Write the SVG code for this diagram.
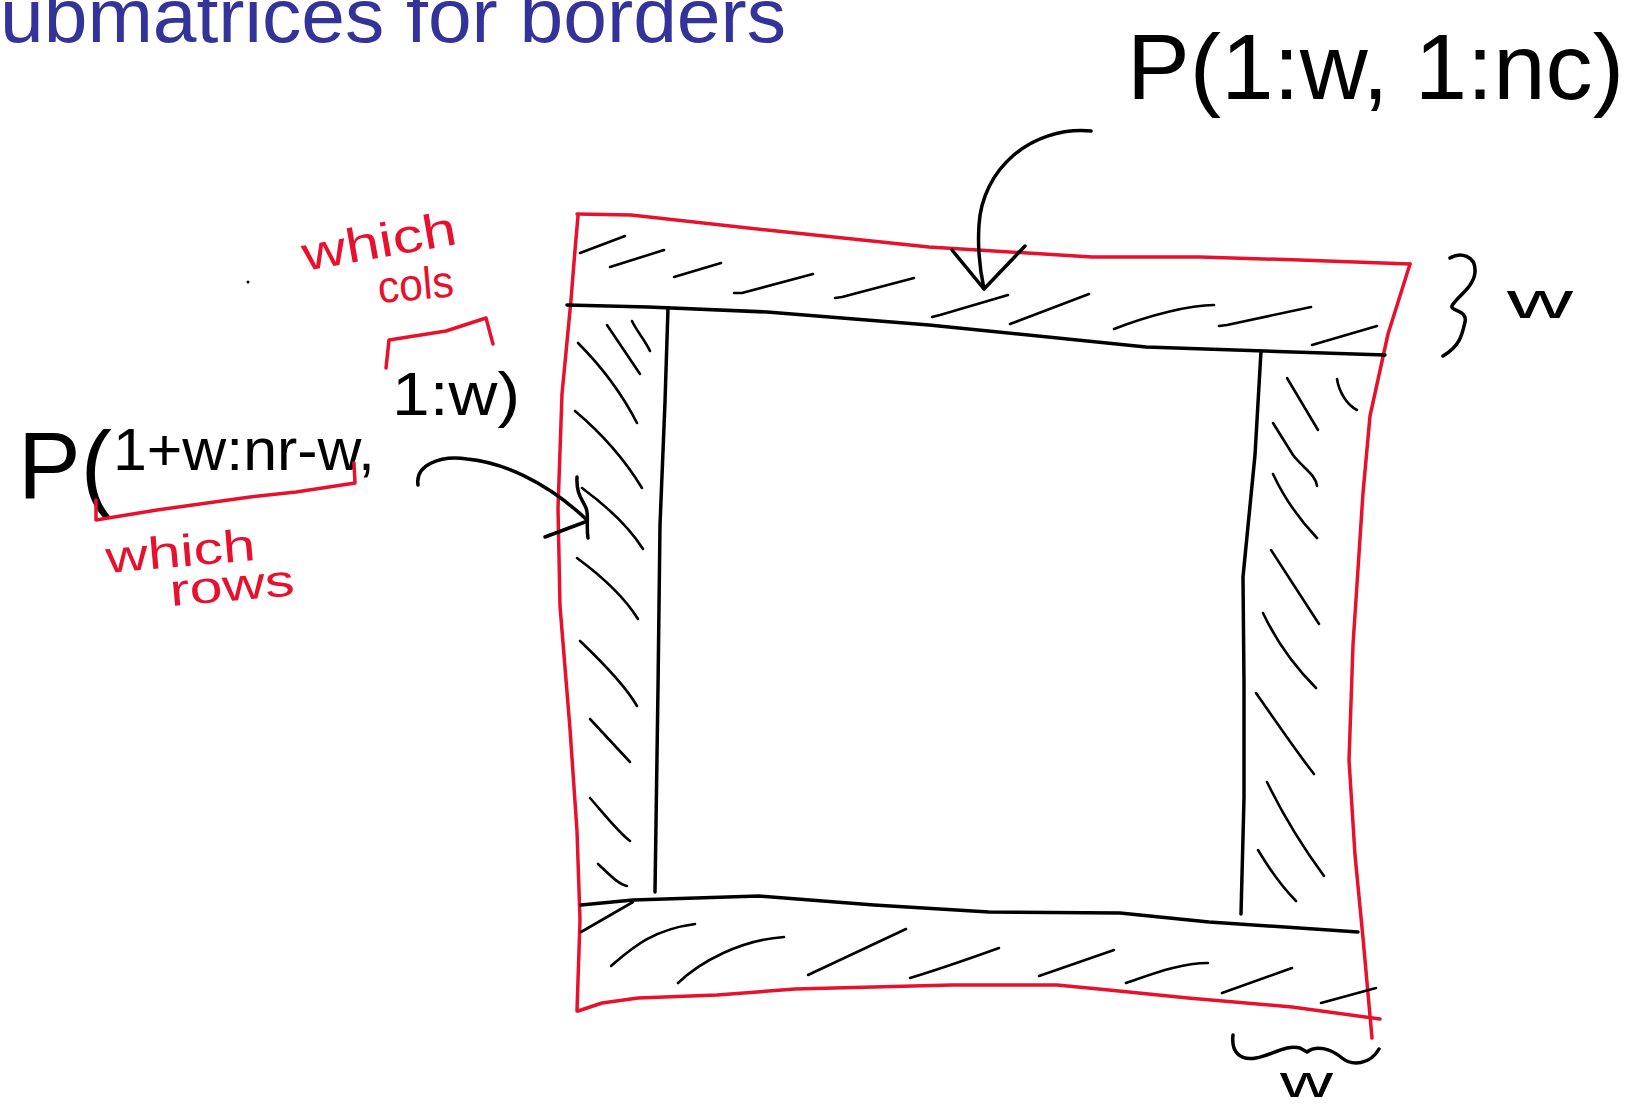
<svg xmlns="http://www.w3.org/2000/svg" width="1637" height="1109" viewBox="0 0 1637 1109">
<style>
.red{fill:none;stroke:#e8112d;stroke-width:3.5;stroke-linecap:round;stroke-linejoin:round}
.blk{fill:none;stroke:#000;stroke-width:3.5;stroke-linecap:round;stroke-linejoin:round}
.hat{fill:none;stroke:#000;stroke-width:2.6;stroke-linecap:round;stroke-linejoin:round}
.hw{font-family:"Liberation Sans",Arial,sans-serif;fill:#000}
.rhw{font-family:"Liberation Sans",Arial,sans-serif;fill:#e8112d}
.title{font-family:"Liberation Sans",Arial,sans-serif;fill:#333399;font-size:76px}
</style>
<rect width="1637" height="1109" fill="#fff"/>
<g id="title"><text class="title" x="0" y="42" textLength="786" lengthAdjust="spacingAndGlyphs">ubmatrices for borders</text></g>

<g id="matrix">
  <g id="outer-red">
    <path class="red" d="M577,214 L631,215 L767,230 L929,247 L1092,257 L1200,257 L1300,260 L1410,264"/>
    <path class="red" d="M1410,264 L1388,334 L1370,416 L1363,493 L1353,645 L1349,760 L1355,855 L1363,938 L1372,1038"/>
    <path class="red" d="M578,1011 L602,1003 L638,998 L717,995 L795,989 L952,985 L1057,985 L1109,990 L1188,998 L1292,1007 L1380,1019"/>
    <path class="red" d="M578,216 L575,250 L571,300 L562,394 L558,508 L560,606 L570,729 L577,831 L580,920 L577,1011"/>
  </g>
  <g id="inner-black">
    <path class="blk" d="M567,305 L648,307 L767,312 L929,325 L1146,347 L1385,355"/>
    <path class="blk" d="M668,308 L665,402 L660,525 L658,688 L655,892"/>
    <path class="blk" d="M581,905 L633,900 L759,896 L874,905 L989,912 L1120,913 L1209,922 L1358,932"/>
    <path class="blk" d="M1261,351 L1255,455 L1243,577 L1244,684 L1244,798 L1241,914"/>
  </g>
  <g id="hatch-top">
    <path class="hat" d="M580,253 L625,236"/>
    <path class="hat" d="M610,267 L664,250"/>
    <path class="hat" d="M674,277 L721,263"/>
    <path class="hat" d="M734,293 L742,293 L813,274"/>
    <path class="hat" d="M835,298 L842,297 L914,278"/>
    <path class="hat" d="M932,317 L940,315 L1008,295"/>
    <path class="hat" d="M1010,324 L1018,321 L1089,294"/>
    <path class="hat" d="M1114,329 C1150,315 1190,305 1214,305"/>
    <path class="hat" d="M1219,326 L1227,325 L1311,307"/>
    <path class="hat" d="M1312,345 L1377,326"/>
  </g>
  <g id="hatch-left">
    <path class="hat" d="M632,321 C636,330 645,340 650,351"/>
    <path class="hat" d="M607,325 L640,374"/>
    <path class="hat" d="M578,343 C600,365 620,390 637,423"/>
    <path class="hat" d="M575,411 C600,432 625,460 642,488"/>
    <path class="hat" d="M582,488 C605,505 628,525 643,549"/>
    <path class="hat" d="M577,558 C600,575 625,598 638,619"/>
    <path class="hat" d="M580,641 C600,660 625,685 637,706"/>
    <path class="hat" d="M590,719 L630,762"/>
    <path class="hat" d="M590,798 C605,815 618,832 630,841"/>
    <path class="hat" d="M598,864 C610,875 618,884 627,886"/>
  </g>
  <g id="hatch-right">
    <path class="hat" d="M1287,378 L1318,430"/>
    <path class="hat" d="M1337,379 C1339,392 1347,405 1357,410"/>
    <path class="hat" d="M1273,423 L1293,455 C1303,468 1316,475 1317,486"/>
    <path class="hat" d="M1273,474 C1285,500 1300,520 1317,538"/>
    <path class="hat" d="M1271,550 L1319,624"/>
    <path class="hat" d="M1263,613 C1278,645 1298,670 1316,688"/>
    <path class="hat" d="M1256,693 C1275,720 1295,750 1314,774"/>
    <path class="hat" d="M1267,782 C1283,815 1305,850 1324,876"/>
    <path class="hat" d="M1258,850 C1270,870 1285,890 1296,901"/>
  </g>
  <g id="hatch-bottom">
    <path class="hat" d="M581,932 L633,902"/>
    <path class="hat" d="M611,966 C630,950 650,930 695,924"/>
    <path class="hat" d="M678,983 C700,962 740,940 784,937"/>
    <path class="hat" d="M808,975 L906,929"/>
    <path class="hat" d="M910,978 C930,972 960,962 999,948"/>
    <path class="hat" d="M1039,976 L1114,950"/>
    <path class="hat" d="M1126,983 C1150,975 1180,963 1208,963"/>
    <path class="hat" d="M1222,993 L1292,968"/>
    <path class="hat" d="M1321,1003 L1376,988"/>
  </g>
</g>

<g id="brace-right"><path class="blk" d="M1450,258 C1460,252 1476,255 1475,272 C1474,288 1455,298 1452,306 C1450,311 1468,310 1465,322 C1462,335 1460,346 1443,356"/></g>
<g id="label-w-right"><text class="hw" x="1507" y="318" font-size="50" textLength="66" lengthAdjust="spacingAndGlyphs">w</text></g>
<g id="brace-bottom"><path class="blk" d="M1233,1035 C1231,1052 1240,1061 1256,1058 C1272,1055 1287,1044 1300,1048 L1307,1052 C1316,1045 1330,1048 1342,1058 C1352,1066 1370,1065 1379,1049"/></g>
<g id="label-w-bottom"><text class="hw" x="1280" y="1097" font-size="45" textLength="53" lengthAdjust="spacingAndGlyphs">w</text></g>

<g id="label-top"><text class="hw" x="1127" y="99" font-size="93" textLength="497" lengthAdjust="spacingAndGlyphs">P(1:w, 1:nc)</text></g>

<g id="label-left">
  <text class="hw"><tspan x="18" y="498" font-size="95" textLength="94" lengthAdjust="spacingAndGlyphs">P(</tspan><tspan x="113" y="470" font-size="60" textLength="262" lengthAdjust="spacingAndGlyphs">1+w:nr-w,</tspan><tspan x="392" y="415" font-size="62" textLength="128" lengthAdjust="spacingAndGlyphs">1:w)</tspan></text>
</g>

<g id="bracket-cols"><path class="red" d="M386,368 L389,340 L446,331 L486,318 L493,344"/></g>
<g id="bracket-rows"><path class="red" d="M96,500 L96,520 L157,510 L250,497 L296,492 L355,483 L354,463"/></g>
<g id="label-which-cols">
  <text class="rhw" x="305" y="271" font-size="48" textLength="156" lengthAdjust="spacingAndGlyphs" transform="rotate(-10 305 271)">which</text>
  <text class="rhw" x="379" y="303" font-size="45" textLength="76" lengthAdjust="spacingAndGlyphs" transform="rotate(-5 379 303)">cols</text>
</g>
<g id="label-which-rows">
  <text class="rhw" x="107" y="573" font-size="45" textLength="150" lengthAdjust="spacingAndGlyphs" transform="rotate(-5 107 573)">which</text>
  <text class="rhw" x="171" y="606" font-size="45" textLength="125" lengthAdjust="spacingAndGlyphs" transform="rotate(-5 171 606)">rows</text>
</g>
<circle cx="248" cy="282" r="1.5" fill="#000"/>

<g id="connectors">
  <path class="blk" d="M1091,131 C1030,126 982,170 979,225 C977,255 981,275 984,289"/>
  <path class="blk" d="M952,250 L984,289 L1025,246"/>
  <path class="blk" d="M418,485 C415,465 440,455 467,459 C500,462 545,480 587,520"/>
  <path class="blk" d="M545,537 L585,522"/>
  <path class="blk" d="M577,477 C576,495 583,500 586,508 C589,515 586,525 588,538"/>
</g>
</svg>
